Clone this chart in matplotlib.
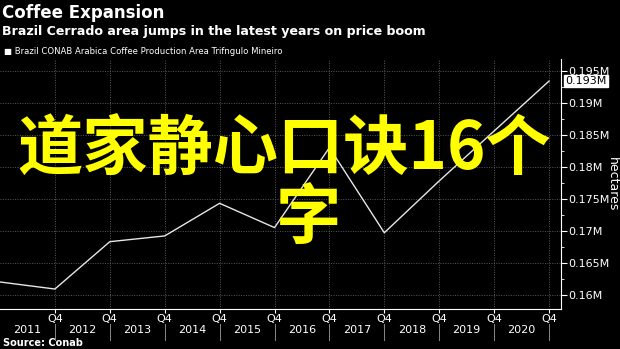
import numpy as np
import matplotlib.pyplot as plt
from matplotlib.ticker import FixedLocator, MultipleLocator

# Brazil CONAB Arabica area, Triangulo Mineiro (hectares, millions), Q4 of each year
years = [2010, 2011, 2012, 2013, 2014, 2015, 2016, 2017, 2018, 2019, 2020]
area_m = [0.1620, 0.1609, 0.1683, 0.1692, 0.1743, 0.1705, 0.1830, 0.1697, 0.1778, 0.1856, 0.1934]
year_labels = ['2011', '2012', '2013', '2014', '2015', '2016', '2017', '2018', '2019', '2020']
y_ticks = [0.16, 0.165, 0.17, 0.175, 0.18, 0.185, 0.19, 0.195]
last_label = '0.193M'

BG = 'black'
FG = 'white'
GRID = '#5a5a5a'

fig = plt.figure(figsize=(6.2, 3.49), dpi=100, facecolor=BG)
ax = fig.add_axes([0.0, 0.115, 0.905, 0.715], facecolor=BG)

x = np.arange(len(years))
ax.plot(x, area_m, color='#e6e6e6', lw=1.0, zorder=3)

ax.set_xlim(0, len(years) - 1 + 0.22)
ax.set_ylim(0.1578, 0.1968)

# y axis on the right
ax.yaxis.tick_right()
ax.yaxis.set_label_position('right')
ax.yaxis.set_major_locator(FixedLocator(y_ticks))
ax.yaxis.set_minor_locator(MultipleLocator(0.0025))
ax.set_yticklabels([f'{t:g}M' for t in y_ticks])
ax.tick_params(axis='y', colors=FG, labelsize=8, length=4, width=0.8,
               which='major', pad=1)
ax.tick_params(axis='y', colors=FG, length=2, width=0.6, which='minor')
ax.set_ylabel('hectares', color=FG, fontsize=9, rotation=270, labelpad=7)

# x axis: Q4 ticks, year names between them
ax.set_xticks(x[1:])
ax.set_xticklabels(['Q4'] * (len(years) - 1))
ax.tick_params(axis='x', colors=FG, labelsize=8, length=3, width=0.8, pad=1)
for i, lab in enumerate(year_labels):
    ax.text(i + 0.5, -0.085, lab, transform=ax.get_xaxis_transform(),
            color=FG, fontsize=8, ha='center', va='center')
    ax.plot([i + 1, i + 1], [-0.06, -0.125], transform=ax.get_xaxis_transform(),
            color='#888888', lw=0.7, clip_on=False)

for s in ['top', 'left']:
    ax.spines[s].set_visible(False)
ax.spines['bottom'].set_color(FG)
ax.spines['right'].set_color(FG)

ax.grid(True, which='major', color=GRID, ls=(0, (1, 1.5)), lw=0.7)

# last value tag
ax.annotate(last_label, xy=(1.0, area_m[-1]), xycoords=('axes fraction', 'data'),
            xytext=(3, 0), textcoords='offset points', ha='left', va='center',
            fontsize=8, color='black',
            bbox=dict(boxstyle='square,pad=0.1', fc='white', ec='white'))

# header
fig.text(0.003, 0.962, 'Coffee Expansion', color=FG, fontsize=12,
         fontweight='bold', va='center')
fig.text(0.003, 0.91, 'Brazil Cerrado area jumps in the latest years on price boom',
         color=FG, fontsize=9.1, fontweight='bold', va='center')
fig.text(0.006, 0.852, '\u25a0 Brazil CONAB Arabica Coffee Production Area Trifngulo Mineiro',
         color=FG, fontsize=6.1, va='center')
fig.text(0.005, 0.017, 'Source: Conab', color=FG, fontsize=7,
         fontweight='bold', va='center')

# overlay caption
cjk = ['Noto Sans CJK SC', 'DejaVu Sans']
fig.text(0.459, 0.57, '道家静心口诀16个', color='#ffff00', fontsize=47,
         family=cjk, fontweight='bold', ha='center', va='center')
fig.text(0.498, 0.37, '字', color='#ffff00', fontsize=47,
         family=cjk, fontweight='bold', ha='center', va='center')

fig.savefig('out.png', dpi=100, facecolor=BG)
